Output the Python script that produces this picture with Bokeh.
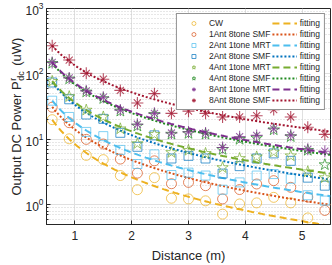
import numpy as np
from bokeh.plotting import figure
from bokeh.models import Range1d, Legend, LegendItem, Title
from bokeh.embed import file_html
from bokeh.resources import INLINE

# ---------------- data ----------------
distance = [0.6, 0.9, 1.2, 1.5, 1.8, 2.1, 2.4, 2.7, 3.0, 3.3, 3.6, 3.9, 4.2, 4.5, 4.8, 5.1, 5.4]

cw             = [20, 10.2, 5.7, 4.9, 2.8, 1.7, 2.6, 1.26, 1.23, 1.15, 0.72, 1.03, 1.07, 1.3, 1.07, 0.63, float("nan")]
ant1_8tone_smf = [31, 18, 10, 8.5, 5.0, 3.05, 4.7, 2.1, 2.2, 1.96, 1.23, 1.71, 2.08, 2.34, 1.85, 1.31, 0.82]
ant2_1tone_mrt = [39, 22, 13, 11.2, 6.9, 4.2, 5.9, 2.85, 3.1, 2.8, 1.7, 2.2, 2.8, 2.95, 2.5, 1.4, 1.16]
ant2_8tone_smf = [74, 41, 24, 20.6, 12.6, 7.7, 11.5, 5.1, 5.6, 5.1, 3.0, 3.9, 5.1, 6.1, 4.7, 2.6, 1.96]
ant4_1tone_mrt = [77, 45, 28, 22, 14.5, 8.6, 11.9, 6.3, 6.8, 6.1, 3.7, 5.1, 5.4, 6.4, 5.6, 3.2, 2.6]
ant4_8tone_smf = [145, 84, 53, 42, 27, 16, 24, 12, 12.3, 12, 7.0, 10, 10.5, 14, 11, 6.8, 4.1]
ant8_1tone_mrt = [150, 87, 55, 44, 28, 17, 25, 12.5, 13, 12.5, 7.5, 11, 11.5, 14.5, 11.6, 7.05, 6.6]
ant8_8tone_smf = [269, 163, 102, 83, 56, 36, 50, 25, 27, 25, 22, 22, 23, 28.5, 22, 15.3, 11.9]

series_names = ["CW", "1Ant 8tone SMF", "2Ant 1tone MRT", "2Ant 8tone SMF",
                "4Ant 1tone MRT", "4Ant 8tone SMF", "8Ant 1tone MRT", "8Ant 8tone SMF"]
series_values = [cw, ant1_8tone_smf, ant2_1tone_mrt, ant2_8tone_smf,
                 ant4_1tone_mrt, ant4_8tone_smf, ant8_1tone_mrt, ant8_8tone_smf]
fit_label = "fitting"
x_ticks = [1, 2, 3, 4, 5]
ylabel_main = "Output DC Power P\u2002\u2002\u2009(uW)"
ylabel_sup = "r"
ylabel_sub = "dc"

# ---------------- styles ----------------
colors = ["#EDB120", "#D95319", "#4DBEEE", "#0072BD", "#77AC30", "#208A20", "#7E2F8E", "#A2142F"]
markers = ["circle", "circle", "square", "square", "star", "star", "asterisk8", "asterisk8"]
dashes = ["7 4", "2 2", "7 4", "2 2", "7 4", "2 2", "7 4", "2 2"]
FONT = "Liberation Sans"
AX = "#262626"


def power_fit(d, y):
    d = np.asarray(d, float)
    y = np.asarray(y, float)
    m = ~np.isnan(y)
    d, y = d[m], y[m]
    best = None
    for n in np.linspace(0.3, 3.5, 3201):
        f = d ** (-n)
        a = (y * f).sum() / (f * f).sum()
        sse = ((y - a * f) ** 2).sum()
        if best is None or sse < best[0]:
            best = (sse, a, n)
    return best[1], best[2]


p = figure(width=332, height=265, x_range=Range1d(0.5, 5.5), y_range=Range1d(0.5, 1000),
           y_axis_type="log", output_backend="svg", toolbar_location=None,
           min_border_left=46, min_border_right=2, min_border_top=8, min_border_bottom=39)
p.background_fill_color = "white"
p.border_fill_color = "white"
p.outline_line_color = AX
p.outline_line_width = 1

# grid
p.xgrid.grid_line_color = "#E0E0E0"
p.ygrid.grid_line_color = "#E0E0E0"
p.ygrid.minor_grid_line_color = "#CFCFCF"
p.ygrid.minor_grid_line_dash = "1 2"

# axes
p.xaxis.ticker = x_ticks
for ax in (p.xaxis[0], p.yaxis[0]):
    ax.axis_line_color = AX
    ax.major_tick_line_color = AX
    ax.minor_tick_line_color = AX
    ax.major_tick_in = 4
    ax.major_tick_out = 0
    ax.major_label_text_color = AX
    ax.major_label_text_font = FONT
    ax.major_label_text_font_size = "12px"
    ax.axis_label_text_font = FONT
    ax.axis_label_text_color = AX
    ax.axis_label_text_font_style = "normal"
p.xaxis.minor_tick_in = 0
p.xaxis.minor_tick_out = 0
p.yaxis.minor_tick_in = 2
p.yaxis.minor_tick_out = 0
p.xaxis.major_label_standoff = 6
p.yaxis.major_label_standoff = 3
p.xaxis.axis_label = "Distance (m)"
p.xaxis.axis_label_text_font_size = "13px"
p.xaxis.axis_label_standoff = 5

marker_items = []
fit_items = []
xs = np.linspace(0.6, 5.5, 200)
for name, vals, col, mk, dash in zip(series_names, series_values, colors, markers, dashes):
    a, n = power_fit(distance, vals)
    ln = p.line(xs, a * xs ** (-n), line_color=col, line_width=2, line_dash=dash)
    if mk == "asterisk8":
        r1 = p.scatter(distance, vals, marker="cross", size=12, line_color=col, line_width=1.1,
                       line_alpha=0.75, fill_color=None)
        r2 = p.scatter(distance, vals, marker="x", size=10, line_color=col, line_width=1.1,
                       line_alpha=0.75, fill_color=None)
        rs = [r1, r2]
    else:
        sz = {"circle": 10, "square": 9, "star": 12}[mk]
        r = p.scatter(distance, vals, marker=mk, size=sz, line_color=col, line_width=1,
                      line_alpha=0.7, fill_color=None)
        rs = [r]
    marker_items.append(LegendItem(label=name, renderers=rs))
    fit_items.append(LegendItem(label=fit_label, renderers=[ln]))

legend = Legend(items=marker_items + fit_items, location="top_right", ncols=2,
                label_text_font=FONT, label_text_font_size="8.5px", label_text_color=AX,
                glyph_width=25, glyph_height=10, label_height=10, spacing=1, padding=4,
                margin=5, label_standoff=3, border_line_color=AX, border_line_width=1,
                background_fill_color="white", background_fill_alpha=1)
p.add_layout(legend)

# y-axis label (rotated titles in the left panel: spacer, subscript, main, superscript)
y0 = 29
fs_main = 13
w_main = 8.781 * fs_main  # width of "Output DC Power P" in Arial metrics
off_ss = y0 + w_main + 0.5


def ytitle(text, size, offset, standoff, alpha=1.0):
    return Title(text=text, align="left", offset=offset, vertical_align="middle",
                 standoff=standoff, text_font=FONT, text_font_size=size,
                 text_font_style="normal", text_color=AX, text_alpha=alpha)


p.add_layout(ytitle("\u2009", "9px", 0, 1, alpha=0.0), "left")          # spacer
p.add_layout(ytitle(ylabel_sub, "9px", off_ss, -8.5), "left")            # subscript
p.add_layout(ytitle(ylabel_main, f"{fs_main}px", y0, -13), "left")       # main text
p.add_layout(ytitle(ylabel_sup, "9px", off_ss, -8.5), "left")            # superscript

open("out.html", "w").write(file_html(p, INLINE))
